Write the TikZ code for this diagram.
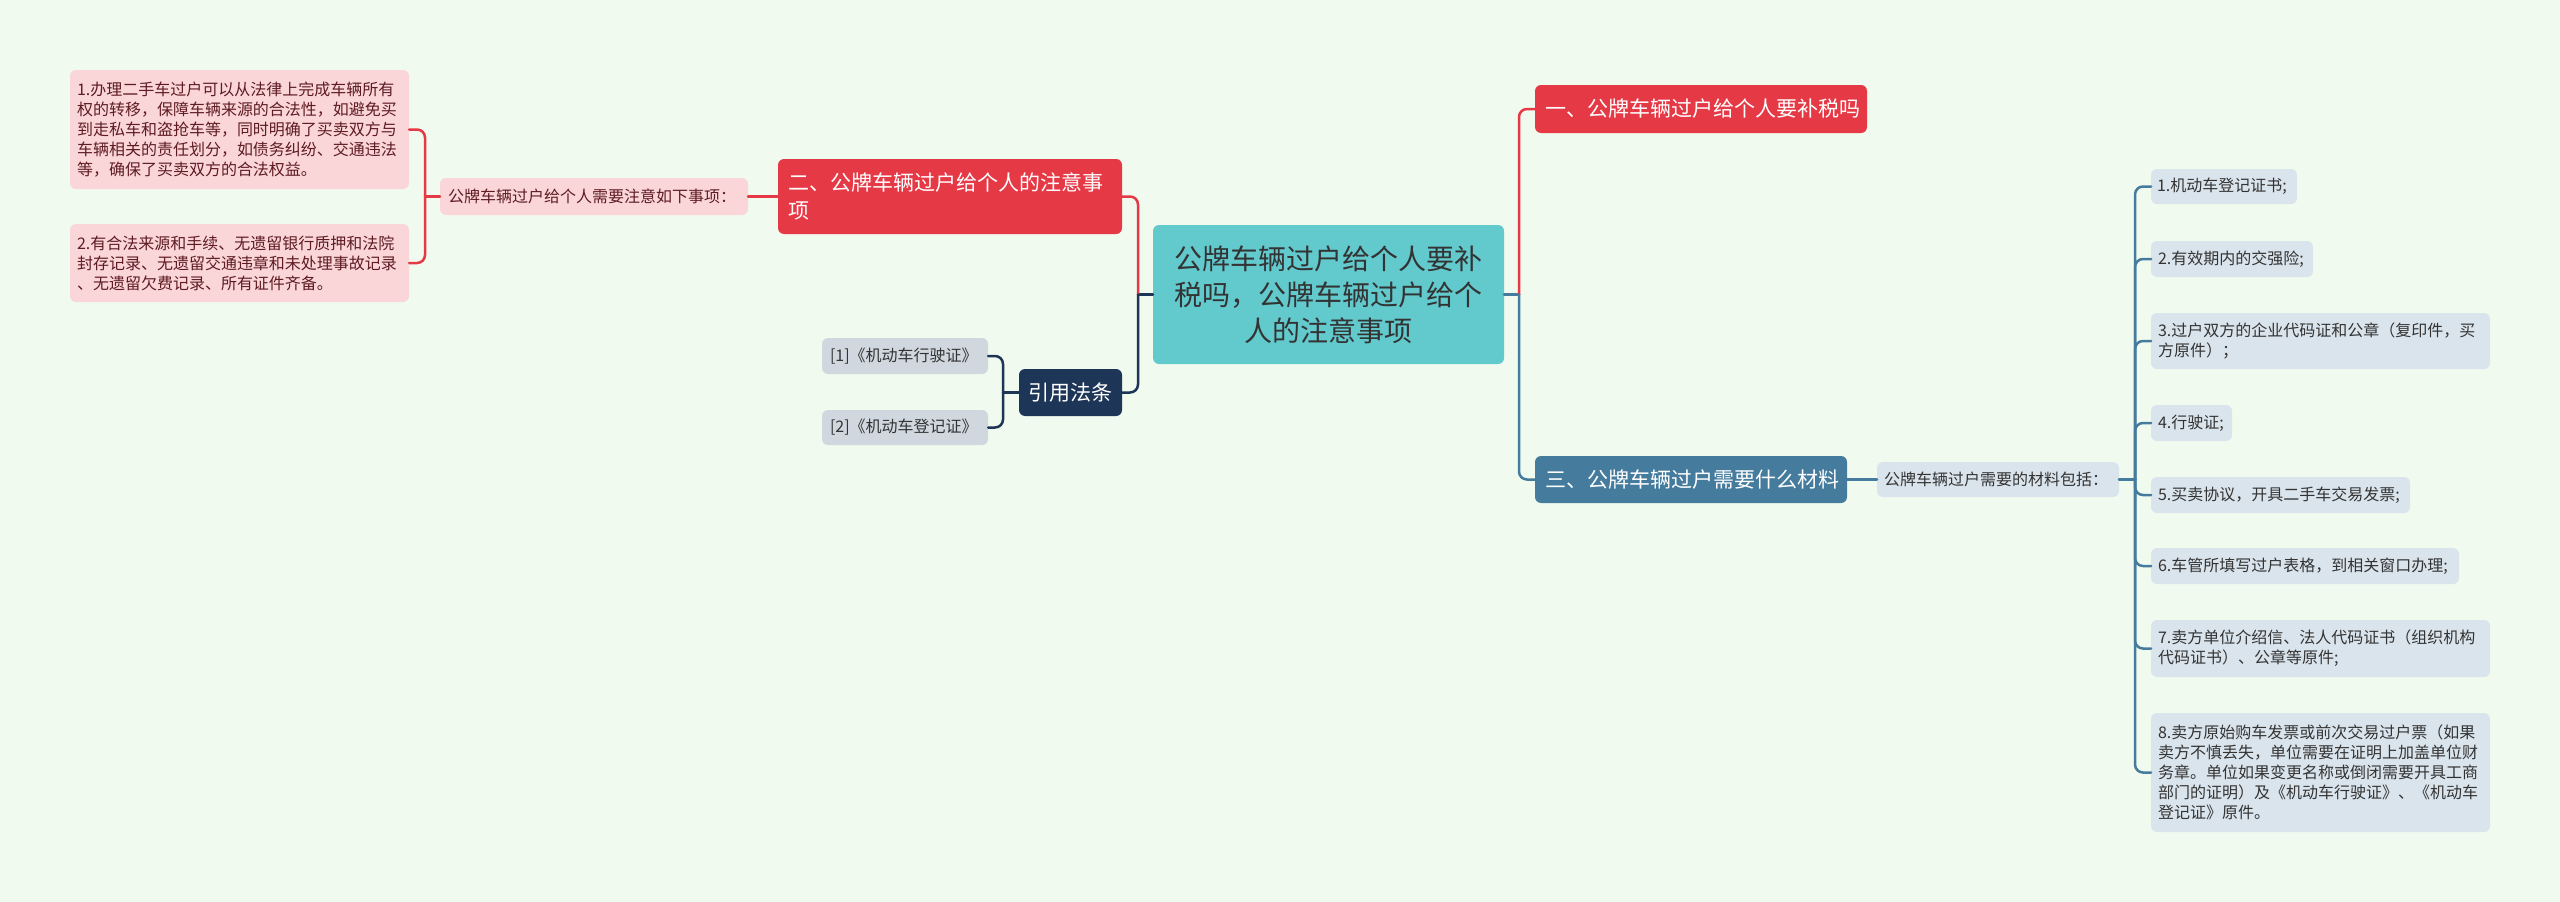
\documentclass[tikz,border=0pt]{standalone}
\usepackage{fontspec}
\newfontfamily\cjk{Noto Sans CJK SC}
\usetikzlibrary{calc}
\definecolor{bg}{HTML}{F1FAEE}
\definecolor{myred}{HTML}{E63946}
\definecolor{mynavy}{HTML}{1D3557}
\definecolor{myblue}{HTML}{457B9D}
\definecolor{myteal}{HTML}{62C9CD}
\definecolor{mypink}{HTML}{FAD6D9}
\definecolor{mygray}{HTML}{D0D7DF}
\definecolor{mylblue}{HTML}{DAE4EC}
\definecolor{pinktext}{HTML}{5E1B22}
\definecolor{darktext}{HTML}{333333}
\tikzset{
  box/.style={rectangle, rounded corners=6pt, anchor=north west, inner ysep=0pt, outer sep=0pt, align=left},
  small/.style={box, font=\cjk\fontsize{16}{20}\selectfont},
  big/.style={box, font=\cjk\fontsize{21}{28}\selectfont, text=white},
  pinkbox/.style={small, fill=mypink, text=pinktext},
  itembox/.style={small, fill=mylblue, text=darktext},
  citebox/.style={small, fill=mygray, text=darktext},
  conn/.style={line width=2.5pt, line cap=round},
  redl/.style={conn, draw=myred},
  navyl/.style={conn, draw=mynavy},
  bluel/.style={conn, draw=myblue},
  rc/.style={rounded corners=8pt}
}
\begin{document}
\begin{tikzpicture}[x=1pt,y=-1pt]
\useasboundingbox (0,0) rectangle (2560,902);
\fill[bg] (0,0) rectangle (2560,902);

% centre
\node[box, fill=myteal, text=darktext, align=center, font=\cjk\fontsize{28}{36}\selectfont,
  minimum width=351pt, minimum height=139pt, text width=327pt, inner xsep=12pt] (center) at (1153,225)
  {公牌车辆过户给个人要补\\税吗，公牌车辆过户给个\\人的注意事项};

% right side
\node[big, fill=myred, minimum width=332pt, minimum height=48pt, text width=312pt, inner xsep=10pt] (n1) at (1535,85)
  {一、公牌车辆过户给个人要补税吗};
\node[big, fill=myblue, minimum width=312pt, minimum height=47pt, text width=292pt, inner xsep=10pt] (n3) at (1535,456)
  {三、公牌车辆过户需要什么材料};
\node[itembox, minimum width=242pt, minimum height=35pt, text width=228pt, inner xsep=7pt] (mat) at (1877,462)
  {公牌车辆过户需要的材料包括：};

\node[itembox, minimum width=146pt, minimum height=35pt, text width=134pt, inner xsep=6pt] (i1) at (2151,169)
  {1.机动车登记证书;};
\node[itembox, minimum width=162pt, minimum height=36pt, text width=148pt, inner xsep=7pt] (i2) at (2151,241)
  {2.有效期内的交强险;};
\node[itembox, minimum width=339pt, minimum height=56pt, text width=325pt, inner xsep=7pt] (i3) at (2151,313)
  {3.过户双方的企业代码证和公章（复印件，买\\方原件）；};
\node[itembox, minimum width=81pt, minimum height=36pt, text width=67pt, inner xsep=7pt] (i4) at (2151,405)
  {4.行驶证;};
\node[itembox, minimum width=259pt, minimum height=36pt, text width=245pt, inner xsep=7pt] (i5) at (2151,477)
  {5.买卖协议，开具二手车交易发票;};
\node[itembox, minimum width=308pt, minimum height=36pt, text width=294pt, inner xsep=7pt] (i6) at (2151,548)
  {6.车管所填写过户表格，到相关窗口办理;};
\node[itembox, minimum width=339pt, minimum height=57pt, text width=325pt, inner xsep=7pt] (i7) at (2151,620)
  {7.卖方单位介绍信、法人代码证书（组织机构\\代码证书）、公章等原件;};
\node[itembox, minimum width=339pt, minimum height=119pt, text width=325pt, inner xsep=7pt] (i8) at (2151,713)
  {8.卖方原始购车发票或前次交易过户票（如果\\卖方不慎丢失，单位需要在证明上加盖单位财\\务章。单位如果变更名称或倒闭需要开具工商\\部门的证明）及《机动车行驶证》、《机动车\\登记证》原件。};

% left side
\node[big, fill=myred, minimum width=344pt, minimum height=75pt, text width=324pt, inner xsep=10pt] (n2) at (778,159)
  {二、公牌车辆过户给个人的注意事\\项};
\node[big, fill=mynavy, align=center, minimum width=103pt, minimum height=47pt, text width=87pt, inner xsep=8pt] (ref) at (1019,369)
  {引用法条};
\node[citebox, minimum width=166pt, minimum height=36pt, text width=150pt, inner xsep=8pt] (c1) at (822,338)
  {[1]《机动车行驶证》};
\node[citebox, minimum width=166pt, minimum height=35pt, text width=150pt, inner xsep=8pt] (c2) at (822,410)
  {[2]《机动车登记证》};
\node[pinkbox, minimum width=308pt, minimum height=37pt, text width=292pt, inner xsep=8pt] (mid) at (440,178)
  {公牌车辆过户给个人需要注意如下事项：};
\node[pinkbox, minimum width=339pt, minimum height=119pt, text width=325pt, inner xsep=7pt] (box1) at (70,70)
  {1.办理二手车过户可以从法律上完成车辆所有\\权的转移，保障车辆来源的合法性，如避免买\\到走私车和盗抢车等，同时明确了买卖双方与\\车辆相关的责任划分，如债务纠纷、交通违法\\等，确保了买卖双方的合法权益。};
\node[pinkbox, minimum width=339pt, minimum height=78pt, text width=325pt, inner xsep=7pt] (box2) at (70,224)
  {2.有合法来源和手续、无遗留银行质押和法院\\封存记录、无遗留交通违章和未处理事故记录\\、无遗留欠费记录、所有证件齐备。};

% junctions
\coordinate (jL) at ($(center.west)+(-15,0)$);
\coordinate (jR) at ($(center.east)+(15,0)$);
\coordinate (jC) at ($(ref.west)+(-16,0)$);
\coordinate (jM) at ($(mid.west)+(-15,0)$);
\coordinate (jI) at ($(mat.east)+(16,0)$);

% connectors right
\draw[bluel] (center.east) -- (jR);
\draw[redl, rc] (jR) |- (n1.west);
\draw[bluel, rc] (jR) |- (n3.west);
\draw[bluel] (n3.east) -- (mat.west);
\draw[bluel] (mat.east) -- (jI);
\foreach \i in {i1,i2,i3,i4,i5,i6,i7,i8}{
  \draw[bluel, rc] (jI) |- (\i.west);
}

% connectors left
\draw[navyl] (center.west) -- (jL);
\draw[redl, rc] (jL) |- (n2.east);
\draw[navyl, rc] (jL) |- (ref.east);
\draw[navyl] (ref.west) -- (jC);
\draw[navyl, rc] (jC) |- (c1.east);
\draw[navyl, rc] (jC) |- (c2.east);
\draw[redl] (n2.west) -- (mid.east);
\draw[redl] (mid.west) -- (jM);
\draw[redl, rc] (jM) |- (box1.east);
\draw[redl, rc] (jM) |- (box2.east);
\end{tikzpicture}
\end{document}
